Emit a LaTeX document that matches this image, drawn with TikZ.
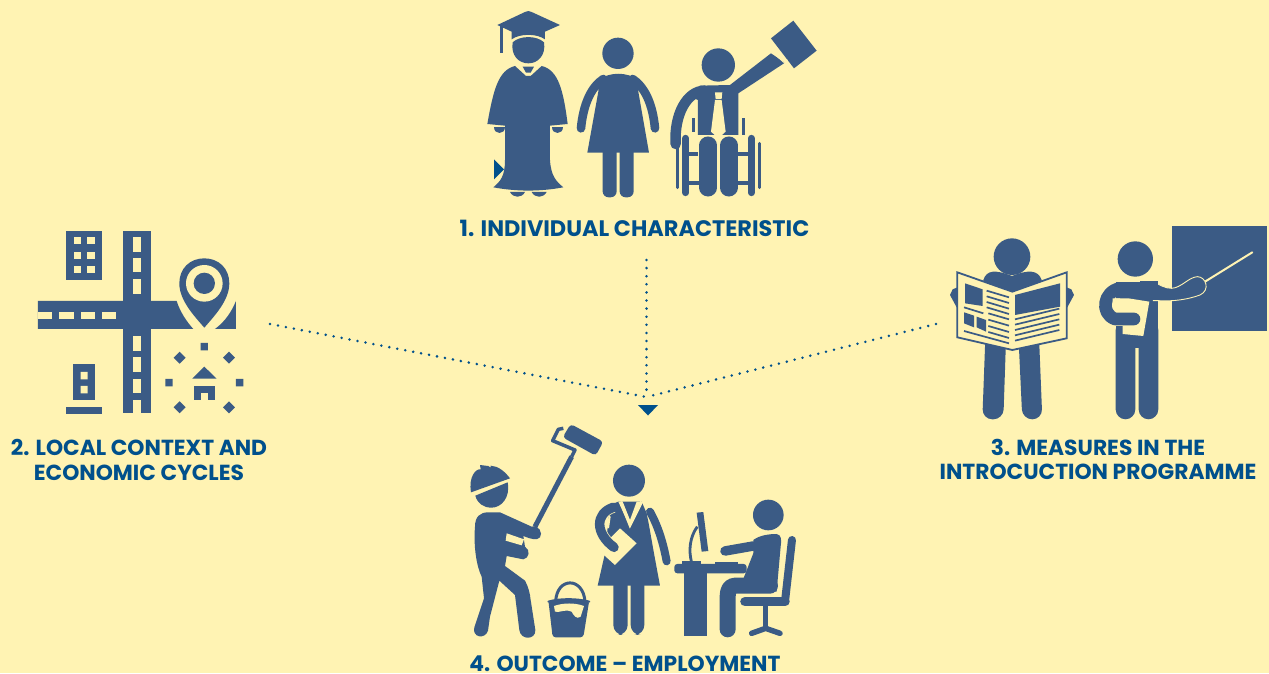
\documentclass[tikz,border=0pt]{standalone}
\usepackage{fontspec}
\setmainfont{Poppins}
\definecolor{bgc}{HTML}{FFF3B3}
\definecolor{icon}{HTML}{3B5B85}
\definecolor{txt}{HTML}{00508C}
\tikzset{
 A/.style={shift={(470,0)},x=0.3333pt,y=-0.3333pt},
 B/.style={shift={(20,220)},x=0.3333pt,y=-0.3333pt},
 C/.style={shift={(940,220)},x=0.3333pt,y=-0.3333pt},
 D/.style={shift={(460,420)},x=0.3333pt,y=-0.3333pt},
 st/.style={draw=icon,line cap=round,line join=round,line width=#1},
 st/.default=8pt,
 lg/.style={draw=bgc,line cap=round,line join=round,line width=#1},
 lg/.default=1pt,
 lbl/.style={text=txt,font=\fontsize{22.4}{24.6}\selectfont\bfseries,align=center,inner sep=0pt},
 lblb/.style={text=txt,font=\fontsize{21.8}{24.6}\selectfont\bfseries,align=center,inner sep=0pt},
 dotline/.style={draw=txt,line width=2.8pt,line cap=round,dash pattern=on 0pt off 8.1pt}
}
\begin{document}
\begin{tikzpicture}[x=1pt,y=-1pt]
\fill[bgc] (0,0) rectangle (1269,673);
\useasboundingbox (0,0) rectangle (1269,673);
% ---------- icon 1
\begin{scope}[A]
 % graduate
 \fill[icon] (82,75) -- (165,36) .. controls (172,32) and (178,32) .. (185,36) -- (270,75) -- (225,95) -- (225,118) .. controls (200,100) and (150,100) .. (125,118) -- (125,95) -- cycle;
 \draw[st=3pt,line cap=butt] (93,78) -- (93,158);
 \fill[icon] (128,127) .. controls (150,106) and (200,106) .. (222,127) .. controls (228,165) and (205,190) .. (175,190) .. controls (145,190) and (122,165) .. (128,127) -- cycle;
 \fill[icon] (52,372) .. controls (70,270) and (85,210) .. (135,198) -- (168,228) -- (182,228) -- (215,198) .. controls (265,210) and (280,270) .. (293,372) -- (240,377) -- (240,480) .. controls (243,530) and (260,545) .. (280,562) .. controls (210,575) and (140,575) .. (70,562) .. controls (90,545) and (105,530) .. (105,480) -- (105,377) -- cycle;
 \fill[icon] (158,200) -- (192,200) -- (182,218) -- (168,218) -- cycle;
 \fill[icon] (72,380) -- (105,380) .. controls (105,405) and (72,405) .. (72,380) -- cycle;
 \fill[icon] (247,380) -- (280,380) .. controls (280,405) and (247,405) .. (247,380) -- cycle;
 \fill[icon] (120,576) -- (165,576) .. controls (155,595) and (130,595) .. (120,576) -- cycle;
 \fill[icon] (185,576) -- (230,576) .. controls (220,595) and (195,595) .. (185,576) -- cycle;
 \fill[txt] (72,478) -- (102,508) -- (72,538) -- cycle;
 % woman
 \fill[icon] (444,160) circle [radius=47];
 \draw[st=8.6pt] (333,385) .. controls (340,310) and (365,260) .. (400,237);
 \draw[st=8.6pt] (555,385) .. controls (548,310) and (523,260) .. (488,237);
 \fill[icon] (385,240) .. controls (420,215) and (470,215) .. (505,240) -- (505,275) -- (537,458) -- (352,458) -- (385,275) -- cycle;
 \fill[icon,rounded corners=6pt] (398,400) -- (440,400) -- (440,592) -- (398,592) -- cycle;
 \fill[icon,rounded corners=6pt] (449,400) -- (491,400) -- (491,592) -- (449,592) -- cycle;
 % wheelchair
 \fill[icon] (745,195) circle [radius=50];
 \fill[icon] (780,255) -- (903,160) -- (945,188) -- (805,280) -- (805,405) -- (684,405) -- (684,300) -- (660,290) -- (690,257) -- cycle;
 \draw[st=10.5pt] (617,432) .. controls (612,345) and (650,272) .. (705,272);
 \fill[bgc] (735,277) -- (757,277) -- (755,297) -- (737,297) -- cycle;
 \fill[bgc] (735,300) -- (755,300) -- (767,395) -- (745,415) -- (723,395) -- cycle;
 \draw[st=3pt,line cap=butt] (670,355) -- (670,395) (820,355) -- (820,405);
 \draw[st=3pt] (622,440) -- (622,563) (868,430) -- (868,563);
 \draw[st=4pt,line cap=butt] (657,462) -- (688,462) (657,550) -- (688,550) (803,462) -- (833,462) (803,550) -- (833,550);
 \draw[st=7pt] (647,415) -- (647,578) (844,415) -- (844,578);
 \draw[lg=19.3pt,line cap=round] (714.5,436) -- (714.5,500) (776.5,436) -- (776.5,500);
 \draw[st=17.7pt] (714.5,436) -- (714.5,563) (776.5,436) -- (776.5,563);
 \fill[icon] (970,62) -- (1040,152) -- (972,205) -- (903,115) -- cycle;
 \draw[lg=1pt] (903,153) -- (917,140) (903,153) -- (945,190) -- (952,180);
\end{scope}
% ---------- icon 2
\begin{scope}[B]
 \fill[icon] (139,33) rectangle (246,179);
 \foreach \y in {52,95,137} \foreach \x in {161,202} \fill[bgc] (\x,\y) rectangle ++(22,21);
 \fill[icon] (309,33) rectangle (394,580);
 \fill[icon] (54,243) -- (470,243) .. controls (480,275) and (500,305) .. (520,327) -- (54,327) -- cycle;
 \fill[icon] (648,243) -- (648,327) -- (585,327) .. controls (615,305) and (635,275) .. (648,243) -- cycle;
 \foreach \a/\b in {50/95,115/157,178/222,348/392,412/456,476/520,540/580} \fill[bgc] (340,\a) rectangle (362,\b);
 \fill[bgc] (54,276) rectangle (97,297);
 \foreach \a in {118,182,246} \fill[bgc] (\a,276) rectangle ++(43,21);
 \fill[icon] (553,323) .. controls (520,285) and (478,240) .. (478,190) .. controls (478,145) and (510,115) .. (553,115) .. controls (596,115) and (628,145) .. (628,190) .. controls (628,240) and (586,285) .. (553,323) -- cycle;
 \fill[bgc] (553,190) circle [radius=55];
 \fill[icon] (553,190) circle [radius=32];
 \fill[icon] (160,433) rectangle (224,541);
 \fill[bgc] (182,456) rectangle (203,478) (182,498) rectangle (203,520);
 \fill[icon] (139,562) rectangle (246,581);
 \fill[icon] (542,369) rectangle (564,391) (436,477) rectangle (458,499) (648,477) rectangle (670,499);
 \foreach \x/\y in {479/413,627/413,479/562,627/562} \fill[icon] (\x-18,\y) -- (\x,\y-18) -- (\x+18,\y) -- (\x,\y+18) -- cycle;
 \fill[icon] (517,476) -- (553,440) -- (590,476) -- cycle;
 \fill[icon] (521,498) rectangle (585,541);
 \fill[bgc] (542,520) rectangle (564,541);
\end{scope}
% ---------- icon 3
\begin{scope}[C]
 % reader
 \fill[icon] (216,110) circle [radius=55];
 \fill[icon] (130,180) .. controls (140,150) and (165,148) .. (216,168) .. controls (265,148) and (295,150) .. (305,180) -- (305,230) -- (130,230) -- cycle;
 \fill[icon] (62,198) -- (38,208) -- (30,225) -- (50,262) -- (62,262) -- cycle;
 \fill[icon] (370,198) -- (394,208) -- (402,225) -- (382,262) -- (370,262) -- cycle;
 \fill[icon,rounded corners=10pt] (138,300) -- (200,300) -- (190,598) -- (127,598) -- cycle;
 \fill[icon,rounded corners=10pt] (233,300) -- (295,300) -- (307,598) -- (247,598) -- cycle;
 \filldraw[fill=bgc,draw=icon,line width=1.8pt,line join=miter] (52,157) -- (217,215) -- (380,157) -- (380,355) -- (217,390) -- (52,352) -- cycle;
 \fill[icon] (75,190) -- (128,208) -- (128,258) -- (75,250) -- cycle;
 \fill[icon] (225,225) -- (360,190) -- (360,260) -- (225,285) -- cycle;
 \fill[icon] (72,277) -- (102,287) -- (102,322) -- (72,310) -- cycle;
 \fill[icon] (110,290) -- (138,300) -- (138,335) -- (110,322) -- cycle;
 \foreach \a in {212,229,246,262} \draw[st=1.7pt,line cap=butt] (140,\a) -- (207,\a+20);
 \foreach \a in {262,281,300,318} \draw[st=1.7pt,line cap=butt] (145,\a+18) -- (207,\a+36);
 \draw[st=1.7pt,line cap=butt] (72,262) -- (130,280);
 \draw[st=1.7pt,line cap=butt] (72,333) -- (207,370);
 \foreach \a in {298,314,330,346,362} \draw[st=1.7pt,line cap=butt] (225,\a) -- (358,\a-32);
 % teacher
 \fill[icon] (695,18) rectangle (982,333);
 \draw[lg=2pt] (795,185) -- (937,97);
 \fill[icon] (586,117) circle [radius=53];
 \fill[icon,rounded corners=10pt] (527,300) -- (586,300) -- (586,598) -- (527,598) -- cycle;
 \fill[icon,rounded corners=10pt] (596,300) -- (655,300) -- (655,598) -- (596,598) -- cycle;
 \fill[icon] (527,185) rectangle (655,385);
 \filldraw[fill=icon,draw=bgc,line width=0.9pt] (640,185) .. controls (660,195) and (675,205) .. (695,205) .. controls (725,203) and (745,172) .. (772,170) .. controls (798,170) and (812,210) .. (780,225) .. controls (745,238) and (700,245) .. (655,242) -- (640,242) -- cycle;
 \fill[icon] (600,183) rectangle (655,241);
 \fill[bgc] (518,235) -- (565,235) -- (628,245) -- (610,348) -- (548,342) -- (548,300) -- (518,300) -- cycle;
 \draw[lg=14pt,line cap=round] (540,205) .. controls (490,215) and (480,280) .. (525,297) -- (582,297);
 \draw[st=12.7pt] (540,205) .. controls (490,215) and (480,280) .. (525,297) -- (582,297);
 \fill[icon] (527,185) rectangle (655,233);
 \fill[bgc] (518,235) -- (540,235) -- (555,275) -- (530,272) .. controls (520,265) and (517,250) .. (518,235) -- cycle;
\end{scope}
% ---------- icon 4
\begin{scope}[D]
 % worker helmet + head
 \fill[icon] (33,217) .. controls (25,170) and (48,145) .. (62,148) -- (60,135) -- (85,138) -- (92,143) -- (92,137) .. controls (115,138) and (135,155) .. (150,175) -- cycle;
 \fill[icon] (46,227) -- (143,187) .. controls (152,235) and (122,263) .. (95,263) .. controls (70,263) and (52,250) .. (46,227) -- cycle;
 % worker body
 \fill[icon] (45,320) .. controls (45,290) and (60,277) .. (85,277) -- (120,277) -- (215,320) .. controls (235,312) and (250,340) .. (240,352) .. controls (230,362) and (215,358) .. (190,348) -- (195,380) .. controls (212,390) and (208,415) .. (190,418) -- (140,408) -- (135,438) -- (195,482) .. controls (205,500) and (210,520) .. (212,540) -- (226,630) .. controls (228,660) and (182,662) .. (178,630) -- (165,525) -- (118,482) -- (90,590) -- (84,632) .. controls (75,660) and (35,652) .. (43,622) -- (72,535) -- (65,470) .. controls (50,440) and (40,380) .. (45,320) -- cycle;
 \fill[bgc] (140,340) -- (192,358) -- (185,376) -- (137,362) -- cycle;
 \draw[st=5pt,line cap=butt] (225,320) -- (335,110);
 \draw[st=3.5pt,line cap=butt] (335,110) -- (345,90) -- (278,62) -- (295,28) -- (310,25);
 \fill[icon,rounded corners=3.5pt] (332,12) -- (430,65) -- (407,107) -- (308,52) -- cycle;
 % bucket
 \draw[st=3pt] (287,545) .. controls (290,470) and (370,470) .. (375,545);
 \fill[icon,rounded corners=3pt] (265,540) -- (388,540) -- (370,652) -- (278,652) -- cycle;
 \fill[bgc] (282,558) .. controls (310,548) and (345,548) .. (372,558) -- (362,590) .. controls (350,600) and (340,585) .. (335,575) .. controls (320,565) and (295,580) .. (285,575) -- cycle;
 \draw[st=2pt] (265,545) .. controls (300,535) and (350,535) .. (388,545);
 % woman
 \fill[icon] (507,182) circle [radius=48];
 \draw[st=8pt] (570,275) .. controls (595,320) and (610,370) .. (620,424);
 \fill[icon] (450,255) -- (475,245) -- (545,245) -- (560,280) -- (566,310) -- (582,400) -- (600,497) -- (413,497) -- (435,400) -- cycle;
 \draw[lg=3pt,line cap=butt,line join=miter] (482,245) -- (510,315) -- (545,245);
 \fill[bgc] (475,245) -- (488,245) -- (510,300) -- (510,320) -- cycle;
 \fill[bgc] (545,245) -- (530,245) -- (510,300) -- (510,320) -- cycle;
 \fill[icon,rounded corners=10pt] (460,430) -- (503,430) -- (503,645) -- (460,645) -- cycle;
 \fill[icon,rounded corners=10pt] (512,430) -- (553,430) -- (553,645) -- (512,645) -- cycle;
 \fill[icon] (435,400) rectangle (570,460);
 \fill[bgc] (415,390) -- (480,325) -- (530,370) -- (465,435) -- cycle;
 \draw[lg=11pt,line cap=butt] (460,262) .. controls (405,280) and (405,340) .. (462,382);
 \draw[st=9.5pt] (460,262) .. controls (405,280) and (405,340) .. (462,382);
 \fill[bgc] (440,322) -- (447,285) -- (452,290) -- (447,325) -- cycle;
 % desk
 \fill[icon,rounded corners=3pt] (643,432) rectangle (860,460);
 \fill[icon] (673,455) rectangle (742,648);
 \fill[icon] (710,278) -- (730,276) -- (745,393) -- (725,395) -- cycle;
 \draw[st=2.8pt,line cap=butt] (712,320) .. controls (690,350) and (685,390) .. (695,428);
 \fill[icon] (665,424) rectangle (722,436);
 \fill[icon] (765,425) rectangle (835,436);
 \fill[icon] (925,285) circle [radius=46];
 \fill[icon] (880,360) .. controls (900,345) and (930,342) .. (950,342) .. controls (965,345) and (965,360) .. (962,380) -- (950,515) -- (835,515) -- (880,400) -- cycle;
 \draw[st=9.5pt] (880,378) -- (795,393);
 \draw[st=16pt] (930,497) -- (825,497) .. controls (810,497) and (803,510) .. (803,530) -- (803,628);
 \draw[st=8pt] (996,360) -- (975,545);
 \draw[st=9.5pt] (855,545) -- (975,545);
 \draw[st=5pt,line cap=butt] (917,555) -- (917,625);
 \draw[st=5.5pt] (875,640) -- (917,625) -- (960,640);
\end{scope}
% ---------- connectors
\coordinate (top) at (646.5,260);
\coordinate (left) at (270,324);
\coordinate (right) at (936,324);
\coordinate (hub) at (646.5,397);
\draw[dotline] (top) -- (hub);
\draw[dotline] (left) -- (hub);
\draw[dotline] (right) -- (hub);
\fill[txt] (638,405) -- (658,405) -- (648,415.5) -- cycle;
% ---------- labels
\node[lbl] (l1) at (634.5,228.5) {1. INDIVIDUAL CHARACTERISTIC};
\node[lblb] (l2) at (139,460) {2. LOCAL CONTEXT AND\\ECONOMIC CYCLES};
\node[lblb] (l3) at (1098,459.5) {3. MEASURES IN THE\\INTROCUCTION PROGRAMME};
\node[lblb] (l4) at (625,663.5) {4. OUTCOME – EMPLOYMENT};
\end{tikzpicture}
\end{document}
